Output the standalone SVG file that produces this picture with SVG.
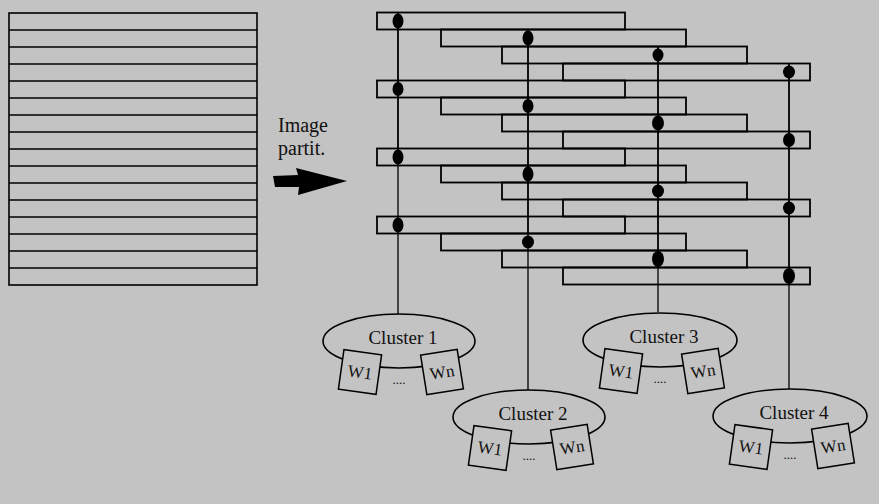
<svg xmlns="http://www.w3.org/2000/svg" width="879" height="504" viewBox="0 0 879 504">
<style>
.ln{fill:none;stroke:#000;stroke-width:1.6}
.st{fill:none;stroke:#000;stroke-width:1.8}
.cn{fill:none;stroke:#000;stroke-width:1.3}
.dot{fill:#000}
.cl{fill:#c3c3c3;stroke:#000;stroke-width:1.6}
.bx{fill:#c3c3c3;stroke:#000;stroke-width:1.5}
.t{font-family:"Liberation Serif","Times New Roman",serif;fill:#111}
.cll{font-size:19px;text-anchor:middle}
.wt{font-size:17px;text-anchor:middle}
.dt{font-size:13px;text-anchor:middle}
</style>
<rect width="879" height="504" fill="#c3c3c3"/>
<g id="image">
<rect class="ln" x="9" y="13" width="248" height="272"/>
<path class="ln" d="M9 30H257M9 47H257M9 64H257M9 81H257M9 98H257M9 115H257M9 132H257M9 149H257M9 166H257M9 183H257M9 200H257M9 217H257M9 234H257M9 251H257M9 268H257"/>
</g>
<g id="label">
<text class="t" x="278" y="132" font-size="20">Image</text>
<text class="t" x="278" y="155" font-size="20">partit.</text>
<polygon points="273,176 298,175 296,168 347,181 298,195 299,187 275,187" fill="#000"/>
</g>
<g id="partitions">
<rect class="st" x="377" y="12.5" width="248" height="17"/>
<rect class="st" x="441" y="29.5" width="245" height="17"/>
<rect class="st" x="502" y="46.5" width="245" height="17"/>
<rect class="st" x="563" y="63.5" width="247" height="17"/>
<rect class="st" x="377" y="80.5" width="248" height="17"/>
<rect class="st" x="441" y="97.5" width="245" height="17"/>
<rect class="st" x="502" y="114.5" width="245" height="17"/>
<rect class="st" x="563" y="131.5" width="247" height="17"/>
<rect class="st" x="377" y="148.5" width="248" height="17"/>
<rect class="st" x="441" y="165.5" width="245" height="17"/>
<rect class="st" x="502" y="182.5" width="245" height="17"/>
<rect class="st" x="563" y="199.5" width="247" height="17"/>
<rect class="st" x="377" y="216.5" width="248" height="17"/>
<rect class="st" x="441" y="233.5" width="245" height="17"/>
<rect class="st" x="502" y="250.5" width="245" height="17"/>
<rect class="st" x="563" y="267.5" width="247" height="17"/>
</g>
<g id="connectors">
<path class="st" d="M398 12.5V148M528 29.5V233M658 46.5V250M789 63.5V267"/>
<path class="cn" d="M398 148V314M528 233V390M658 250V312M789 267V389"/>
<g class="dot">
<ellipse cx="398" cy="21" rx="5.5" ry="7.5"/>
<ellipse cx="398" cy="89" rx="5.5" ry="7"/>
<ellipse cx="398" cy="157" rx="5.5" ry="7.5"/>
<ellipse cx="398" cy="225" rx="5.5" ry="7.5"/>
<ellipse cx="528" cy="38" rx="5.5" ry="7.5"/>
<ellipse cx="528" cy="106" rx="5.5" ry="7"/>
<ellipse cx="528" cy="174" rx="5.5" ry="7.5"/>
<ellipse cx="528" cy="242" rx="6" ry="6.5"/>
<ellipse cx="658" cy="55" rx="5.5" ry="6.5"/>
<ellipse cx="658" cy="123" rx="6" ry="7.5"/>
<ellipse cx="658" cy="191" rx="6" ry="6.5"/>
<ellipse cx="658" cy="259" rx="6" ry="8"/>
<ellipse cx="789" cy="72" rx="6" ry="6.5"/>
<ellipse cx="789" cy="140" rx="6" ry="7"/>
<ellipse cx="789" cy="208" rx="6" ry="6.5"/>
<ellipse cx="789" cy="276" rx="6" ry="8"/>
</g>
</g>
<g id="cluster1" transform="translate(399,341)">
<ellipse class="cl" cx="0" cy="0" rx="76" ry="27"/>
<text class="t cll" x="4" y="3">Cluster 1</text>
<text class="t dt" x="0" y="43">....</text>
<g transform="translate(-39,31) rotate(8)"><rect class="bx" x="-19" y="-20" width="38" height="40"/><text class="t wt" x="0" y="6">W1</text></g>
<g transform="translate(43,31) rotate(-9)"><rect class="bx" x="-18.5" y="-20" width="37" height="40"/><text class="t wt" x="0" y="6">Wn</text></g>
</g>
<g id="cluster2" transform="translate(529,417)">
<ellipse class="cl" cx="0" cy="0" rx="76" ry="27"/>
<text class="t cll" x="4" y="3">Cluster 2</text>
<text class="t dt" x="0" y="43">....</text>
<g transform="translate(-39,31) rotate(8)"><rect class="bx" x="-19" y="-20" width="38" height="40"/><text class="t wt" x="0" y="6">W1</text></g>
<g transform="translate(43,30) rotate(-9)"><rect class="bx" x="-18.5" y="-20" width="37" height="40"/><text class="t wt" x="0" y="6">Wn</text></g>
</g>
<g id="cluster3" transform="translate(660,340)">
<ellipse class="cl" cx="0" cy="0" rx="77" ry="27"/>
<text class="t cll" x="4" y="3">Cluster 3</text>
<text class="t dt" x="0" y="43">....</text>
<g transform="translate(-39,31) rotate(8)"><rect class="bx" x="-19" y="-20" width="38" height="40"/><text class="t wt" x="0" y="6">W1</text></g>
<g transform="translate(43,31) rotate(-9)"><rect class="bx" x="-18.5" y="-20" width="37" height="40"/><text class="t wt" x="0" y="6">Wn</text></g>
</g>
<g id="cluster4" transform="translate(790,416)">
<ellipse class="cl" cx="0" cy="0" rx="77" ry="27"/>
<text class="t cll" x="4" y="3">Cluster 4</text>
<text class="t dt" x="0" y="43">....</text>
<g transform="translate(-39,31) rotate(8)"><rect class="bx" x="-19" y="-20" width="38" height="40"/><text class="t wt" x="0" y="6">W1</text></g>
<g transform="translate(43,30) rotate(-9)"><rect class="bx" x="-18.5" y="-20" width="37" height="40"/><text class="t wt" x="0" y="6">Wn</text></g>
</g>
</svg>
